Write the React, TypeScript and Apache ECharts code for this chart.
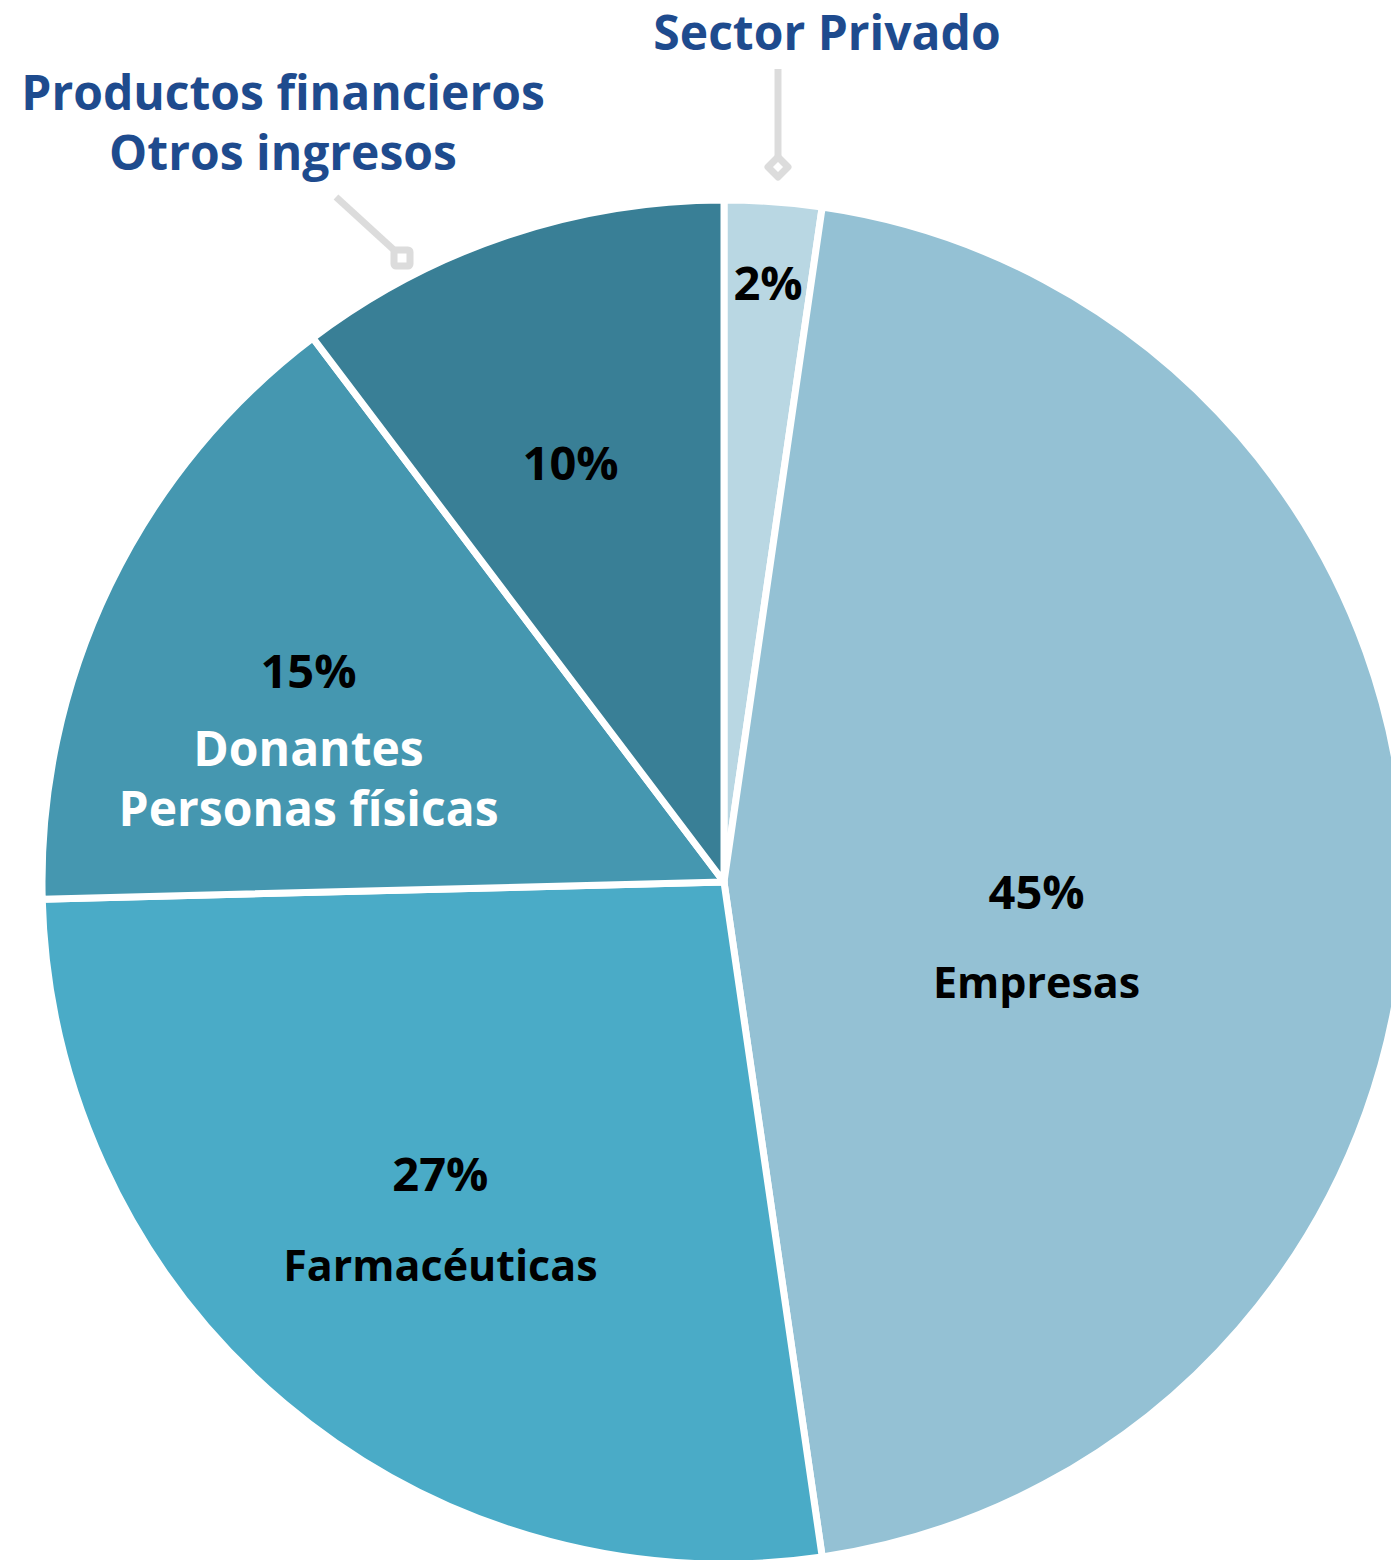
import React, { useEffect, useRef } from "react";
import * as echarts from "echarts";

// ---- data ----
const CATEGORIES = [
  "Sector Privado",
  "Empresas",
  "Farmacéuticas",
  "Donantes\nPersonas físicas",
  "Productos financieros\nOtros ingresos",
];
const VALUES = [2.3, 45.4, 26.9, 15.1, 10.3];

// ---- styles ----
const COLORS = ["#b9d7e3", "#94c1d4", "#4aabc7", "#4597b0", "#397f96"];
// slices whose name sits inside the slice (others use callouts)
const NAME_INSIDE = [false, true, true, true, false];
const NAME_STYLE = ["n", "n", "n", "w", "n"];
const PCT_STYLE = ["p", "p", "p", "p2", "p"];
// fine adjustment of the inside labels (px)
const LABEL_NUDGE: number[][] = [
  [12, -157],
  [-132, 54],
  [3, -3],
  [-15, 41],
  [-12, 2],
];

const FONT = "'Open Sans', 'Noto Sans', sans-serif";
const CENTER = [724, 882];
const RADIUS = 682;
const CALLOUT_COLOR = "#1e4b8e";
const LEADER = "#dcdcdc";

export default function App() {
  const ref = useRef<HTMLDivElement>(null);

  useEffect(() => {
    if (!ref.current) return;
    const chart = echarts.init(ref.current, undefined, { renderer: "svg" });

    const mainData = VALUES.map((v, i) => ({
      name: CATEGORIES[i],
      value: v,
      itemStyle: { color: COLORS[i] },
    }));

    const labelData = VALUES.map((v, i) => {
      const pct = `{${PCT_STYLE[i]}|${Math.round(v)}%}`;
      const nameLines = CATEGORIES[i]
        .split("\n")
        .map((s) => `{${NAME_STYLE[i]}|${s}}`)
        .join("\n");
      const text = NAME_INSIDE[i] ? `${pct}\n${nameLines}` : pct;
      return {
        name: CATEGORIES[i],
        value: v,
        label: { formatter: text },
      };
    });

    const txt = (size: number, color: string, lh: number) => ({
      fontSize: size,
      fontWeight: "bold",
      fontFamily: FONT,
      color,
      lineHeight: lh,
      align: "center",
    });

    chart.setOption({
      animation: false,
      series: [
        {
          type: "pie",
          center: CENTER,
          radius: RADIUS,
          startAngle: 90,
          clockwise: true,
          silent: true,
          avoidLabelOverlap: false,
          label: { show: false },
          labelLine: { show: false },
          emphasis: { disabled: true },
          itemStyle: { borderColor: "#ffffff", borderWidth: 7 },
          data: mainData,
        },
        {
          type: "pie",
          center: CENTER,
          radius: RADIUS * 1.295,
          startAngle: 90,
          clockwise: true,
          silent: true,
          avoidLabelOverlap: false,
          itemStyle: { color: "rgba(0,0,0,0)", borderWidth: 0 },
          emphasis: { disabled: true },
          labelLine: { show: false },
          label: {
            show: true,
            position: "inside",
            rich: {
              p: txt(47, "#000000", 91),
              p2: txt(47, "#000000", 96),
              n: txt(43, "#000000", 91),
              w: txt(48, "#ffffff", 60),
            },
          },
          labelLayout: (params: any) => {
            const d = LABEL_NUDGE[params.dataIndex] || [0, 0];
            return { dx: d[0], dy: d[1] };
          },
          data: labelData,
        },
      ],
      graphic: [
        {
          type: "text",
          x: 827,
          y: 31,
          style: {
            text: CATEGORIES[0],
            fill: CALLOUT_COLOR,
            fontSize: 48,
            fontWeight: "bold",
            fontFamily: FONT,
            align: "center",
            verticalAlign: "middle",
          },
        },
        {
          type: "line",
          shape: { x1: 778, y1: 69, x2: 778, y2: 156 },
          style: { stroke: LEADER, lineWidth: 7 },
        },
        {
          type: "polygon",
          shape: {
            points: [
              [778, 157],
              [788, 167],
              [778, 177],
              [768, 167],
            ],
          },
          style: { fill: "#ffffff", stroke: LEADER, lineWidth: 7, lineJoin: "round" },
        },
        {
          type: "text",
          x: 283,
          y: 121,
          style: {
            text: CATEGORIES[4],
            fill: CALLOUT_COLOR,
            fontSize: 48,
            fontWeight: "bold",
            fontFamily: FONT,
            lineHeight: 60,
            align: "center",
            verticalAlign: "middle",
          },
        },
        {
          type: "line",
          shape: { x1: 336, y1: 197, x2: 394, y2: 250 },
          style: { stroke: LEADER, lineWidth: 7 },
        },
        {
          type: "rect",
          shape: { x: 394, y: 250, width: 16, height: 16, r: 2 },
          style: { fill: "#ffffff", stroke: LEADER, lineWidth: 7, lineJoin: "round" },
        },
      ],
    });

    return () => chart.dispose();
  }, []);

  return (
    <div
      ref={ref}
      style={{ position: "absolute", left: 0, top: 0, width: 1391, height: 1560 }}
    />
  );
}
